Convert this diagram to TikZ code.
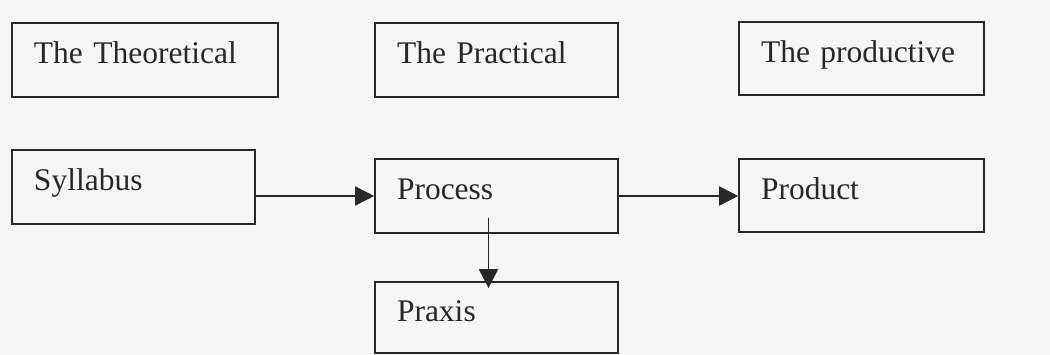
\documentclass[tikz,border=0pt]{standalone}
\usepackage{fontspec}
\setmainfont{Liberation Serif}
\usetikzlibrary{arrows.meta}
\usepackage{xcolor}
\definecolor{scanink}  {RGB}{40 , 40 , 40}
\definecolor{scanpaper}{RGB}{246,246,246}

\begin{document}
\begin{tikzpicture}[
  x=1pt, y=-1pt,
  every node/.style={font=\fontsize{31.5}{34}\selectfont, text=scanink},
  box/.style={draw=scanink, line width=1.6pt, minimum height=74pt, inner xsep=22pt, align=left, text height=20pt, text depth=12pt},
  arrow/.style={-{Triangle[length=19pt,width=19pt]}, line width=1.6pt, scanink}
]
  \fill[scanpaper] (0,0) rectangle (1050,355);
  % Nodes
  \node (theo) [box, text width=222pt] at (145,60) {The Theoretical};
  \node (prac) [box, text width=199pt] at (496.5,60) {The Practical};
  \node (prodv) [box, text width=201pt, minimum height=73pt] at (861.5,58.5) {The productive};

  \node (syll) [box, text width=199pt] at (133.5,187) {Syllabus};
  \node (proc) [box, text width=199pt] at (496.5,196) {Process};
  \node (prodt) [box, text width=201pt, minimum height=73pt] at (861.5,195.5) {Product};

  \node (praxis) [box, text width=199pt, minimum height=71pt] at (496.5,317.5) {Praxis};

  % Paths
  \draw [arrow] (syll.east |- proc.west) -- (proc.west);
  \draw [arrow] (proc.east) -- (proc.east -| prodt.west);
  \draw [arrow] ([xshift=-8pt,yshift=16pt]proc.south) -- ([xshift=-8pt,yshift=-7pt]praxis.north);
\end{tikzpicture}
\end{document}
